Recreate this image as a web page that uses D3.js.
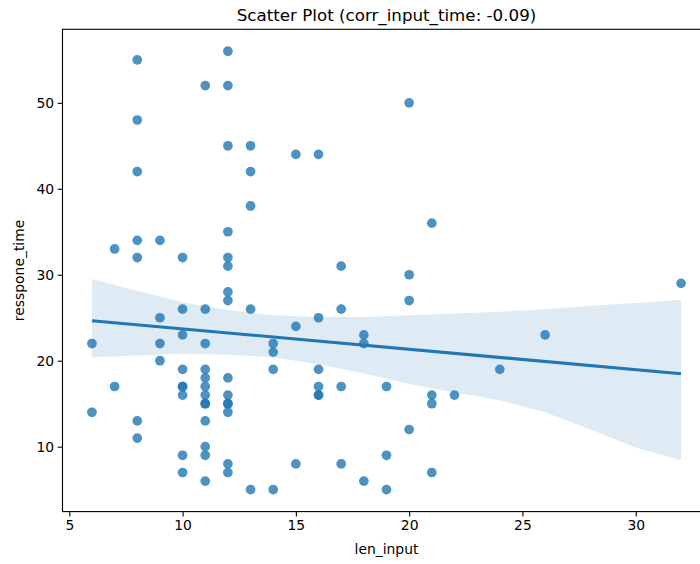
<!DOCTYPE html>
<html>
<head>
<meta charset="utf-8">
<script src="https://cdn.jsdelivr.net/npm/d3@7"></script>
<style>
  html, body { margin: 0; padding: 0; background: #fff; }
  svg { display: block; font-family: "DejaVu Sans", sans-serif; }
</style>
</head>
<body>
<svg id="chart" width="700" height="564"></svg>
<script>
// Observations: input length vs. response time
const lenInput = [
  6, 6,
  7, 7,
  8, 8, 8, 8, 8, 8, 8,
  9, 9, 9, 9,
  10, 10, 10, 10, 10, 10, 10, 10, 10,
  11, 11, 11, 11, 11, 11, 11, 11, 11, 11, 11, 11, 11,
  12, 12, 12, 12, 12, 12, 12, 12, 12, 12, 12, 12, 12, 12, 12,
  13, 13, 13, 13, 13,
  14, 14, 14, 14,
  15, 15, 15,
  16, 16, 16, 16, 16, 16,
  17, 17, 17, 17,
  18, 18, 18,
  19, 19, 19,
  20, 20, 20, 20,
  21, 21, 21, 21,
  22, 24, 26, 32
];
const responseTime = [
  22, 14,
  33, 17,
  55, 48, 42, 34, 32, 13, 11,
  34, 25, 22, 20,
  32, 26, 23, 19, 17, 17, 16, 9, 7,
  52, 26, 22, 19, 18, 17, 16, 15, 15, 13, 10, 9, 6,
  56, 52, 45, 35, 32, 31, 28, 27, 18, 16, 15, 15, 14, 8, 7,
  45, 42, 38, 26, 5,
  22, 21, 19, 5,
  44, 24, 8,
  44, 25, 19, 17, 16, 16,
  31, 26, 17, 8,
  23, 22, 6,
  17, 9, 5,
  50, 30, 27, 12,
  36, 16, 15, 7,
  16, 19, 23, 29
];

// Bootstrapped 95% confidence band of the fit, sampled along len_input
const bandX     = [6,    8,    10,   12,   14,   16,   18,   20,   22,   24,   26,   28,   30,   32];
const bandUpper = [29.5, 28.1, 26.8, 25.9, 25.3, 25.1, 25.1, 25.3, 25.5, 25.7, 26.0, 26.4, 26.7, 27.1];
const bandLower = [20.4, 20.6, 20.8, 20.7, 20.4, 19.6, 18.5, 17.3, 16.3, 15.4, 14.0, 12.0, 9.9,  8.4];

const xTicks = [5, 10, 15, 20, 25, 30];
const yTicks = [10, 20, 30, 40, 50];
const titleText = "Scatter Plot (corr_input_time: -0.09)";
const xLabel = "len_input";
const yLabel = "resspone_time";

const points = lenInput.map((x, i) => ({ x, y: responseTime[i] }));
const band = bandX.map((x, i) => ({ x, lo: bandLower[i], hi: bandUpper[i] }));

const svg = d3.select("#chart");
const blue = "#1f77b4";

// Axes box (right spine falls just past the canvas edge)
const boxL = 62.5, boxR = 710.5, boxT = 29.3, boxB = 511.6;

// 5% padding around the data range, as the plotting default does
const xMin = d3.min(lenInput), xMax = d3.max(lenInput);
const yMin = d3.min(responseTime), yMax = d3.max(responseTime);
const xPad = (xMax - xMin) * 0.05, yPad = (yMax - yMin) * 0.05;

const x = d3.scaleLinear().domain([xMin - xPad, xMax + xPad]).range([boxL, boxR]);
const y = d3.scaleLinear().domain([yMin - yPad, yMax + yPad]).range([boxB, boxT]);

// Ordinary least squares fit
const mx = d3.mean(lenInput), my = d3.mean(responseTime);
const sxx = d3.sum(lenInput, v => (v - mx) ** 2);
const sxy = d3.sum(points, p => (p.x - mx) * (p.y - my));
const slope = sxy / sxx;
const intercept = my - slope * mx;
const fitLine = [xMin, xMax].map(gx => ({ x: gx, y: intercept + slope * gx }));

const plot = svg.append("g");

plot.append("path")
  .datum(band)
  .attr("fill", blue)
  .attr("fill-opacity", 0.15)
  .attr("d", d3.area().x(d => x(d.x)).y0(d => y(d.lo)).y1(d => y(d.hi)));

plot.selectAll("circle")
  .data(points)
  .join("circle")
  .attr("cx", d => x(d.x))
  .attr("cy", d => y(d.y))
  .attr("r", 4.85)
  .attr("fill", blue)
  .attr("fill-opacity", 0.8);

plot.append("path")
  .datum(fitLine)
  .attr("fill", "none")
  .attr("stroke", blue)
  .attr("stroke-width", 3.1)
  .attr("d", d3.line().x(d => x(d.x)).y(d => y(d.y)));

// Axes
const xAxis = svg.append("g")
  .attr("transform", `translate(0,${boxB})`)
  .call(d3.axisBottom(x).tickValues(xTicks).tickSize(4.9).tickPadding(3.5).tickFormat(d3.format("d")));
const yAxis = svg.append("g")
  .attr("transform", `translate(${boxL},0)`)
  .call(d3.axisLeft(y).tickValues(yTicks).tickSize(4.9).tickPadding(3.5).tickFormat(d3.format("d")));

[xAxis, yAxis].forEach(g => {
  g.select(".domain").remove();
  g.selectAll(".tick line").attr("stroke", "#000").attr("stroke-width", 1.1);
  g.selectAll(".tick text")
    .attr("fill", "#000")
    .style("font-size", "13.9px")
    .style("font-family", "'DejaVu Sans', sans-serif");
});

// Frame
svg.append("rect")
  .attr("x", boxL).attr("y", boxT)
  .attr("width", boxR - boxL).attr("height", boxB - boxT)
  .attr("fill", "none")
  .attr("stroke", "#000")
  .attr("stroke-width", 1.1);

// Labels
svg.append("text")
  .attr("x", (boxL + boxR) / 2).attr("y", 21)
  .attr("text-anchor", "middle")
  .style("font-size", "16.7px")
  .attr("fill", "#000")
  .text(titleText);

svg.append("text")
  .attr("x", (boxL + boxR) / 2).attr("y", 554)
  .attr("text-anchor", "middle")
  .style("font-size", "13.9px")
  .attr("fill", "#000")
  .text(xLabel);

svg.append("text")
  .attr("transform", `translate(24,${(boxT + boxB) / 2}) rotate(-90)`)
  .attr("text-anchor", "middle")
  .style("font-size", "13.9px")
  .attr("fill", "#000")
  .text(yLabel);
</script>
</body>
</html>
